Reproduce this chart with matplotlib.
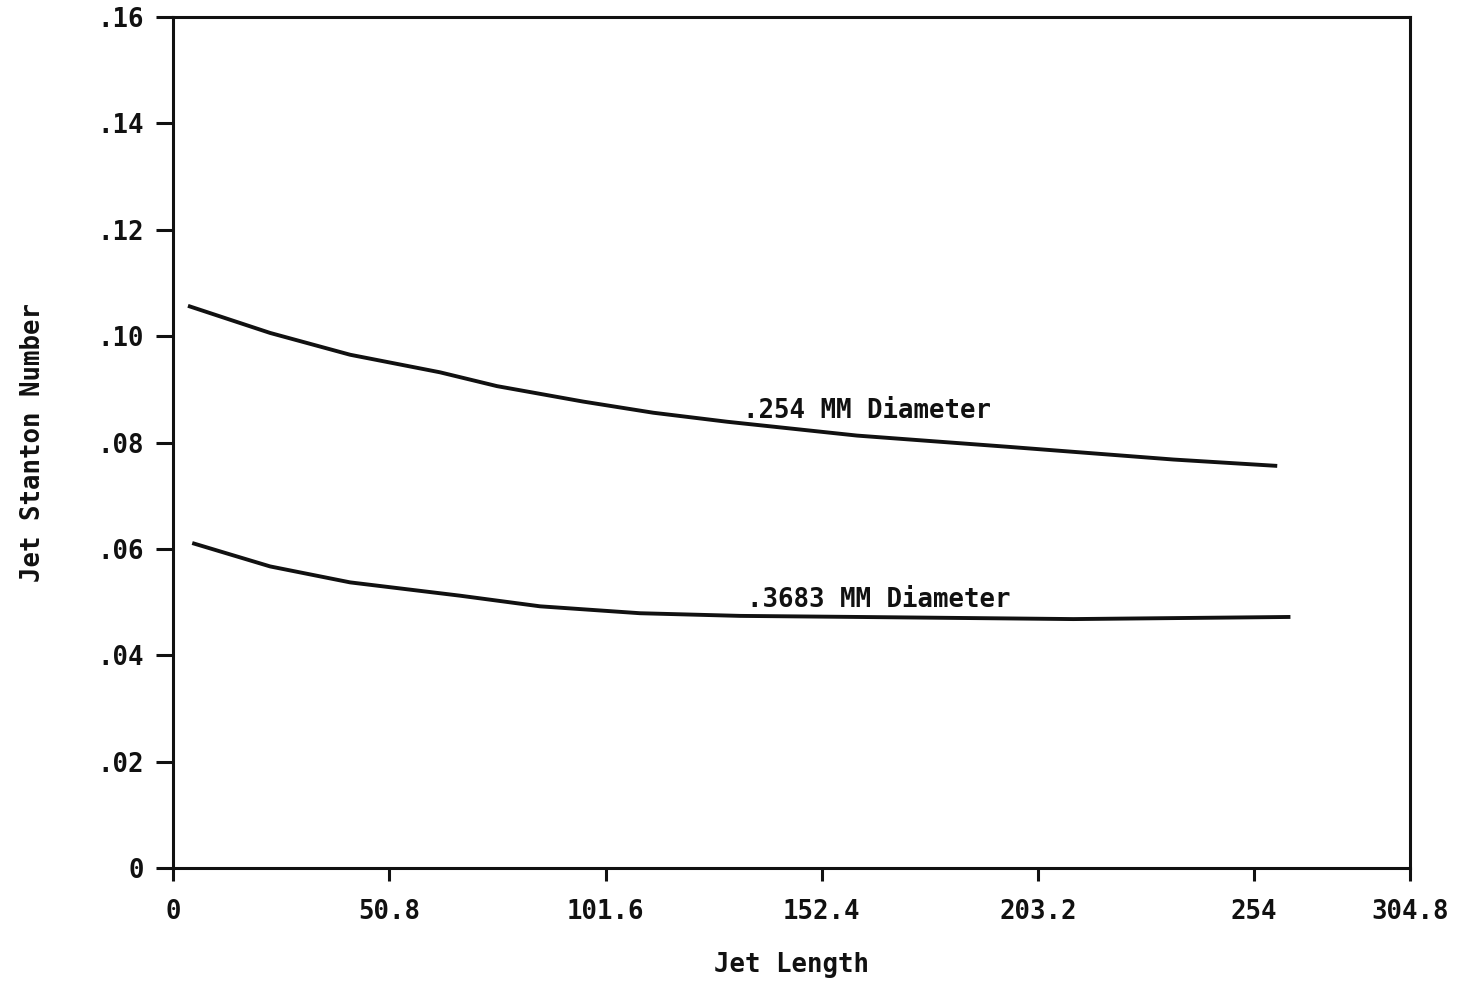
import matplotlib
matplotlib.use('Agg')
import matplotlib.pyplot as plt

# Data
upper_x = [3.5, 22.8, 41.6, 62.7, 76.1, 96.3, 112.8, 130.2, 160.7, 196.0, 235.0, 259.4]
upper_y = [0.1057, 0.1006, 0.0965, 0.0932, 0.0906, 0.0877, 0.0856, 0.0839, 0.0813, 0.0792, 0.0768, 0.0756]
lower_x = [4.5, 22.8, 41.6, 67.4, 86.2, 109.7, 133.2, 160.7, 211.5, 262.5]
lower_y = [0.0611, 0.0567, 0.0537, 0.0512, 0.0492, 0.0479, 0.0474, 0.0472, 0.0468, 0.0472]

x_ticks = [0, 50.8, 101.6, 152.4, 203.2, 254, 290.6]  # last tick sits on the right frame
x_tick_labels = ['0', '50.8', '101.6', '152.4', '203.2', '254', '304.8']
y_ticks = [0, 0.02, 0.04, 0.06, 0.08, 0.10, 0.12, 0.14, 0.16]
y_tick_labels = ['0', '.02', '.04', '.06', '.08', '.10', '.12', '.14', '.16']

plt.rcParams['font.family'] = 'DejaVu Sans Mono'
plt.rcParams['font.weight'] = 'bold'
plt.rcParams['axes.labelweight'] = 'bold'
ink = '#111111'
fs = 18.5

fig = plt.figure(figsize=(14.63, 9.84), dpi=100)
ax = fig.add_axes([0.1183, 0.1179, 0.9638 - 0.1183, 0.9827 - 0.1179])

ax.plot(upper_x, upper_y, color=ink, lw=2.8, solid_capstyle='butt', solid_joinstyle='round')
ax.plot(lower_x, lower_y, color=ink, lw=2.8, solid_capstyle='butt', solid_joinstyle='round')

ax.text(133.9, 0.0859, '.254 MM Diameter', fontsize=fs, color=ink, va='center', ha='left')
ax.text(134.9, 0.0504, '.3683 MM Diameter', fontsize=fs, color=ink, va='center', ha='left')

ax.set_xlim(0, 290.6)
ax.set_ylim(0, 0.16)
ax.set_xticks(x_ticks)
ax.set_xticklabels(x_tick_labels)
ax.set_yticks(y_ticks)
ax.set_yticklabels(y_tick_labels)

for s in ax.spines.values():
    s.set_linewidth(2.2)
    s.set_color(ink)

ax.tick_params(axis='x', direction='out', length=9, width=2.2, pad=13, labelsize=fs, colors=ink)
ax.tick_params(axis='y', direction='out', length=12, width=2.2, pad=9, labelsize=fs, colors=ink)

ax.set_xlabel('Jet Length', fontsize=fs, color=ink, labelpad=20)
ax.set_ylabel('Jet Stanton Number', fontsize=fs, color=ink, labelpad=37)

fig.savefig('out.png', dpi=100)
